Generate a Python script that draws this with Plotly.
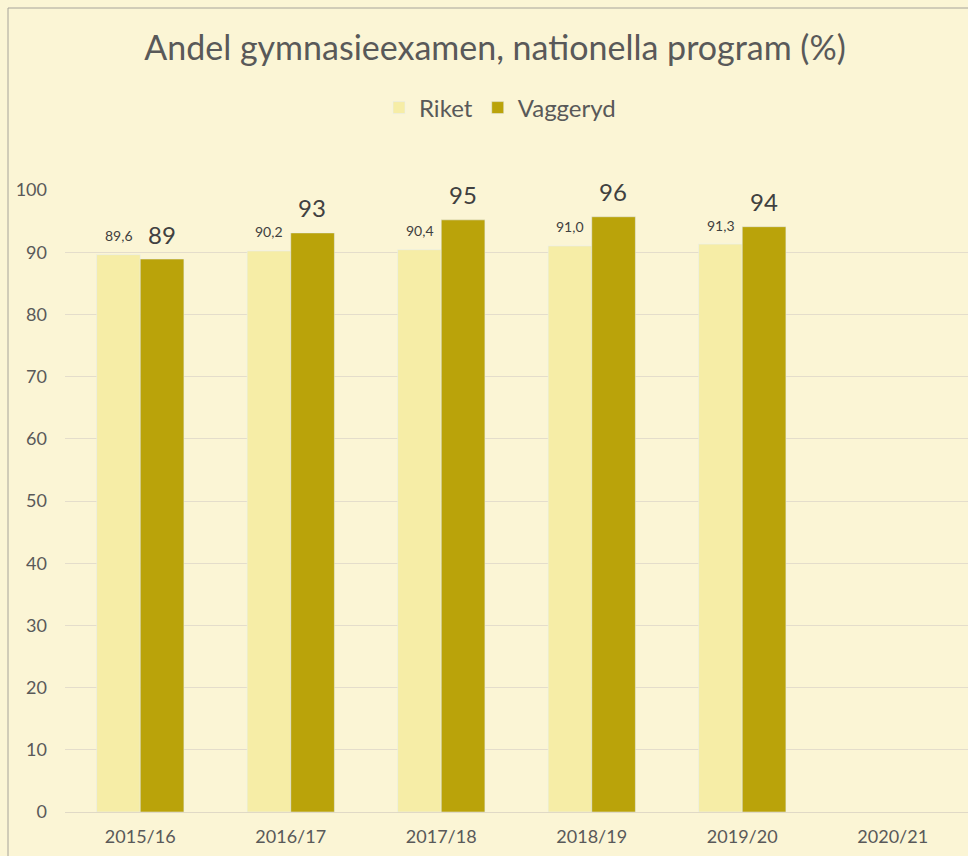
import plotly.graph_objects as go

categories = ["2015/16", "2016/17", "2017/18", "2018/19", "2019/20", "2020/21"]
riket = [89.6, 90.2, 90.4, 91.0, 91.3, None]
vaggeryd = [88.9, 93.1, 95.2, 95.7, 94.1, None]
y_ticks = [0, 10, 20, 30, 40, 50, 60, 70, 80, 90, 100]

BG = "#FBF5D5"
LIGHT = "#F6EDA6"
DARK = "#BAA30A"
TXT = "#595959"
LBL = "#404040"
FONT = "Lato, Open Sans, sans-serif"

fig = go.Figure()
fig.add_trace(go.Bar(x=categories, y=riket, name="Riket", marker_color=LIGHT))
fig.add_trace(go.Bar(x=categories, y=vaggeryd, name="Vaggeryd", marker_color=DARK))

annotations = []
for c, r, v in zip(categories, riket, vaggeryd):
    if r is not None:
        annotations.append(dict(
            x=c, y=r, xref="x", yref="y", text=f"{r:.1f}".replace(".", ","),
            showarrow=False, xshift=-21.5, yshift=19, yanchor="middle",
            font=dict(size=14, color=LBL, family=FONT)))
    if v is not None:
        annotations.append(dict(
            x=c, y=v, xref="x", yref="y", text=f"{v:.0f}",
            showarrow=False, xshift=21.5, yshift=25, yanchor="middle",
            font=dict(size=24, color=LBL, family=FONT)))

fig.update_layout(
    width=968, height=856,
    paper_bgcolor=BG, plot_bgcolor=BG,
    font=dict(family=FONT, color=TXT),
    barmode="group", bargap=0.42, bargroupgap=0,
    margin=dict(l=65, r=0, t=190, b=44),
    title=dict(text="Andel gymnasieexamen, nationella program (%)",
               x=495 / 968, xref="container", xanchor="center",
               y=1 - 48 / 856, yref="container", yanchor="middle",
               font=dict(size=34, color=TXT, family=FONT)),
    legend=dict(orientation="h", xref="container", yref="container",
                x=500 / 968, xanchor="center", y=1 - 108 / 856, yanchor="middle",
                font=dict(size=24, color=TXT, family=FONT),
                bgcolor="rgba(0,0,0,0)", itemwidth=30),
    xaxis=dict(showgrid=False, showline=False, ticks="", ticklabelstandoff=12,
               tickfont=dict(size=18, color=TXT)),
    yaxis=dict(range=[0, 100], tickvals=y_ticks, showline=False, ticks="",
               ticklabelstandoff=17,
               gridcolor="#E4DDCB", gridwidth=1, zeroline=True,
               zerolinecolor="#E0D9C6", zerolinewidth=1,
               tickfont=dict(size=18, color=TXT)),
    annotations=annotations,
    shapes=[dict(type="rect", xref="paper", yref="paper",
                 x0=-57 / 903, x1=1.2, y0=-0.2, y1=1 + 182 / 622,
                 line=dict(color="#A6A39A", width=1), fillcolor="rgba(0,0,0,0)",
                 layer="below")],
)

fig.write_html("out.html", config={"displayModeBar": False},
               post_script="document.body.style.margin='0';document.body.style.background='" + BG + "';")
